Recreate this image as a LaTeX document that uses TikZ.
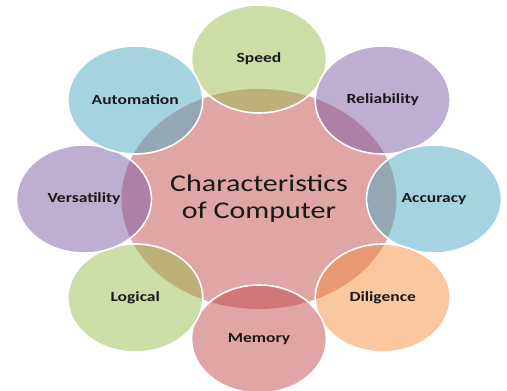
\documentclass[tikz,border=0pt]{standalone}
\usepackage{fontspec}
\setmainfont{Carlito}
\definecolor{hubpink}{RGB}{224,165,165}
\definecolor{petalgreen}{RGB}{155,187,81}
\definecolor{petalblue}{RGB}{75,169,193}
\definecolor{petallilac}{RGB}{125,93,165}
\definecolor{petalpeach}{RGB}{245,145,65}
\definecolor{petalred}{RGB}{193,75,75}
\definecolor{inktext}{RGB}{25,25,25}

\begin{document}
\begin{tikzpicture}[x=1pt,y=1pt,xscale=1.25,transform shape,
	hub/.style={circle,fill=hubpink,minimum size=220pt,inner sep=0pt,align=center,
		text=inktext,font=\fontsize{24}{27}\selectfont},
	petal/.style={circle,minimum size=108pt,inner sep=0pt,draw=white,line width=1.6pt,
		fill opacity=0.5,draw opacity=1,text opacity=1,text=inktext,
		font=\bfseries\fontsize{14}{16}\selectfont}]
	\useasboundingbox (-207.2,-192) rectangle (198.4,199);
	\def\d{140}
	%centre
	\node[hub] (hub) at (0,0) {Characteristics\\of Computer};
	
	%ring, clockwise from the top
	% Text Node
	\node[petal,fill=petalgreen] (speed) at (90:\d) {Speed};
	% Text Node
	\node[petal,fill=petallilac] (reliability) at (45:\d) {Reliability};
	% Text Node
	\node[petal,fill=petalblue] (accuracy) at (0:\d) {Accuracy};
	% Text Node
	\node[petal,fill=petalpeach] (diligence) at (-45:\d) {Diligence};
	% Text Node
	\node[petal,fill=petalred] (memory) at (-90:\d) {Memory};
	% Text Node
	\node[petal,fill=petalgreen] (logical) at (-135:\d) {Logical};
	% Text Node
	\node[petal,fill=petallilac] (versatility) at (180:\d) {Versatility};
	% Text Node
	\node[petal,fill=petalblue] (automation) at (135:\d) {Automation};
\end{tikzpicture}
\end{document}
